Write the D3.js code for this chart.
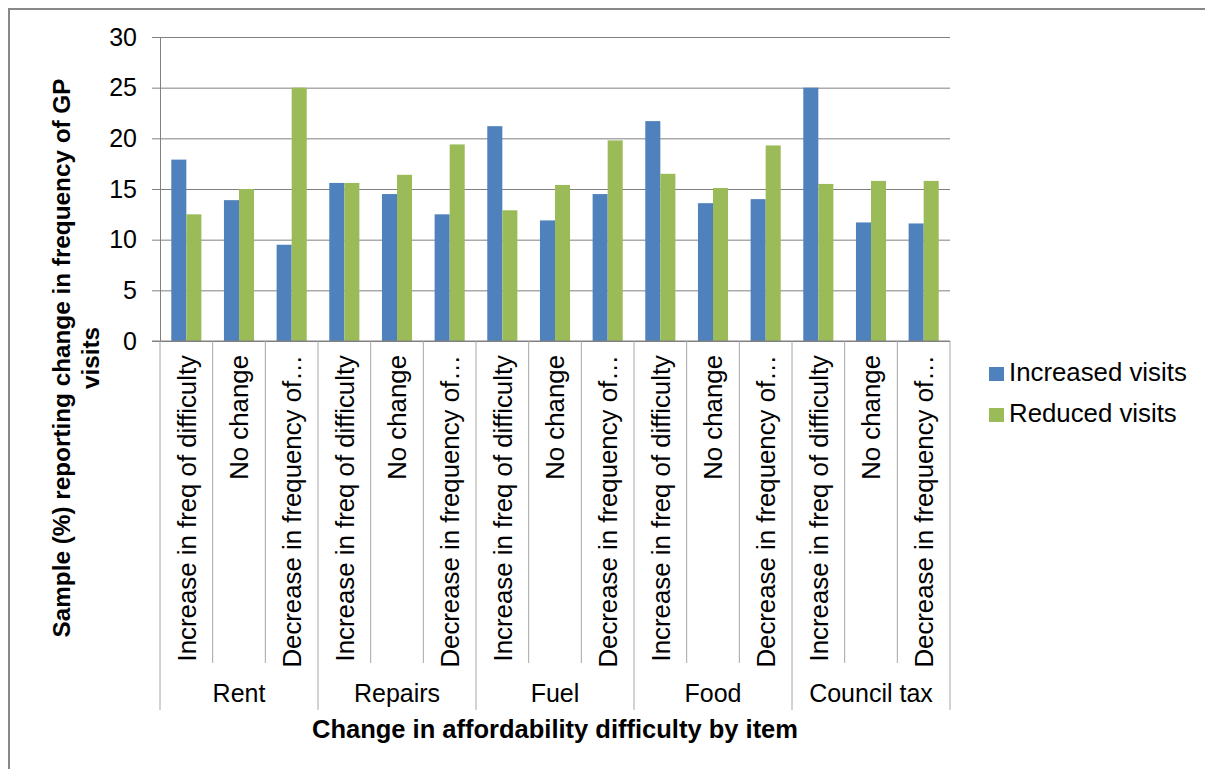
<!DOCTYPE html>
<html>
<head>
<meta charset="utf-8">
<script src="https://cdn.jsdelivr.net/npm/d3@7"></script>
<style>
  body { margin: 0; background: #fff; overflow: hidden; }
  svg { display: block; }
  text { font-family: "Liberation Sans", Arial, sans-serif; fill: #000; }
</style>
</head>
<body>
<script>
const groups = ["Rent", "Repairs", "Fuel", "Food", "Council tax"];
const changes = ["Increase in freq of difficulty", "No change", "Decrease in frequency of\u2026"];
const seriesNames = ["Increased visits", "Reduced visits"];
const increased = [17.9, 13.9, 9.5, 15.6, 14.5, 12.5, 21.2, 11.9, 14.5, 21.7, 13.6, 14.0, 25.0, 11.7, 11.6];
const reduced = [12.5, 15.0, 25.0, 15.6, 16.4, 19.4, 12.9, 15.4, 19.8, 16.5, 15.1, 19.3, 15.5, 15.8, 15.8];
const yTicks = [0, 5, 10, 15, 20, 25, 30];

const colors = ["#4F81BD", "#9BBB59"];
const w = 1205;
const h = 769;
const plotLeft = 160, plotRight = 950, plotTop = 37, plotBottom = 341;

// one entry per bar pair, in chart order
const cats = [];
groups.forEach((g, gi) => {
    changes.forEach((c, ci) => {
        const i = gi * changes.length + ci;
        cats.push({ id: i, group: g, label: c, values: [increased[i], reduced[i]] });
    });
});

const svg = d3.select("body")
              .append("svg")
              .attr("width", w)
              .attr("height", h);

// outer chart frame (right and bottom edges are outside the picture)
svg.append("rect")
   .attr("x", 9)
   .attr("y", 9)
   .attr("width", w + 20)
   .attr("height", h + 20)
   .attr("fill", "none")
   .attr("stroke", "#888")
   .attr("stroke-width", 2);

const x = d3.scaleBand()
            .domain(cats.map(d => d.id))
            .range([plotLeft, plotRight])
            .paddingInner(3 / 7)
            .paddingOuter(3 / 14);

const xs = d3.scaleBand()
             .domain([0, 1])
             .range([0, x.bandwidth()]);

const y = d3.scaleLinear()
            .domain([0, 30])
            .range([plotBottom, plotTop]);

// gridlines, drawn from the tick stubs left of the axis to the right edge
svg.append("g")
   .attr("transform", "translate(" + (plotLeft - 8) + ",0)")
   .call(d3.axisRight(y).tickValues(yTicks).tickSize(plotRight - plotLeft + 8).tickFormat(""))
   .call(g => g.select(".domain").remove())
   .call(g => g.selectAll("line").attr("stroke", "#808080"));

const yAxis = svg.append("g")
                 .attr("transform", "translate(" + plotLeft + ",0)")
                 .call(d3.axisLeft(y).tickValues(yTicks).tickSize(0).tickSizeOuter(0).tickPadding(23));
yAxis.select(".domain").attr("stroke", "#808080");
yAxis.selectAll("text")
     .style("font-size", "25px")
     .style("font-family", "'Liberation Sans', Arial, sans-serif")
     .attr("fill", "#000");

// bars
const catG = svg.selectAll(".cat")
                .data(cats)
                .enter()
                .append("g")
                .attr("class", "cat")
                .attr("transform", d => "translate(" + x(d.id) + ",0)");

catG.selectAll("rect")
    .data(d => d.values)
    .enter()
    .append("rect")
    .attr("x", (d, i) => xs(i))
    .attr("y", d => y(d))
    .attr("width", xs.bandwidth())
    .attr("height", d => y(0) - y(d))
    .attr("fill", (d, i) => colors[i]);

// x axis line
svg.append("line")
   .attr("x1", plotLeft - 8)
   .attr("x2", plotRight)
   .attr("y1", plotBottom)
   .attr("y2", plotBottom)
   .attr("stroke", "#808080");

// category separators: short ones between changes, long ones between groups
const step = x.step();
d3.range(cats.length + 1).forEach(i => {
    svg.append("line")
       .attr("x1", plotLeft + i * step)
       .attr("x2", plotLeft + i * step)
       .attr("y1", plotBottom)
       .attr("y2", i % 3 === 0 ? 710 : 663)
       .attr("stroke", "#a6a6a6");
});

// rotated change labels
svg.selectAll(".cat-label")
   .data(cats)
   .enter()
   .append("text")
   .attr("class", "cat-label")
   .attr("transform", d => "translate(" + (x(d.id) + x.bandwidth() / 2) + ",355) rotate(-90)")
   .attr("text-anchor", "end")
   .attr("dy", "0.36em")
   .style("font-size", "25.8px")
   .text(d => d.label);

// group labels
svg.selectAll(".group-label")
   .data(groups)
   .enter()
   .append("text")
   .attr("class", "group-label")
   .attr("x", (d, i) => plotLeft + (i * 3 + 1.5) * step)
   .attr("y", 702)
   .attr("text-anchor", "middle")
   .style("font-size", "25px")
   .text(d => d);

// axis titles
svg.append("text")
   .attr("x", (plotLeft + plotRight) / 2)
   .attr("y", 738)
   .attr("text-anchor", "middle")
   .style("font-size", "25.5px")
   .style("font-weight", "bold")
   .text("Change in affordability difficulty by item");

const yTitle = svg.append("text")
                  .attr("transform", "translate(61,358) rotate(-90)")
                  .attr("text-anchor", "middle")
                  .style("font-size", "24.3px")
                  .style("font-weight", "bold");
yTitle.append("tspan")
      .attr("x", 0)
      .attr("dy", "0.36em")
      .text("Sample (%) reporting change in frequency of GP");
yTitle.append("tspan")
      .attr("x", 0)
      .attr("dy", "29px")
      .text("visits");

// legend
const legend = svg.selectAll(".legend")
                  .data(seriesNames)
                  .enter()
                  .append("g")
                  .attr("class", "legend")
                  .attr("transform", (d, i) => "translate(989," + (367 + i * 41) + ")");
legend.append("rect")
      .attr("width", 15)
      .attr("height", 14)
      .attr("fill", (d, i) => colors[i]);
legend.append("text")
      .attr("x", 20)
      .attr("y", 14)
      .style("font-size", "25.8px")
      .text(d => d);
</script>
</body>
</html>
